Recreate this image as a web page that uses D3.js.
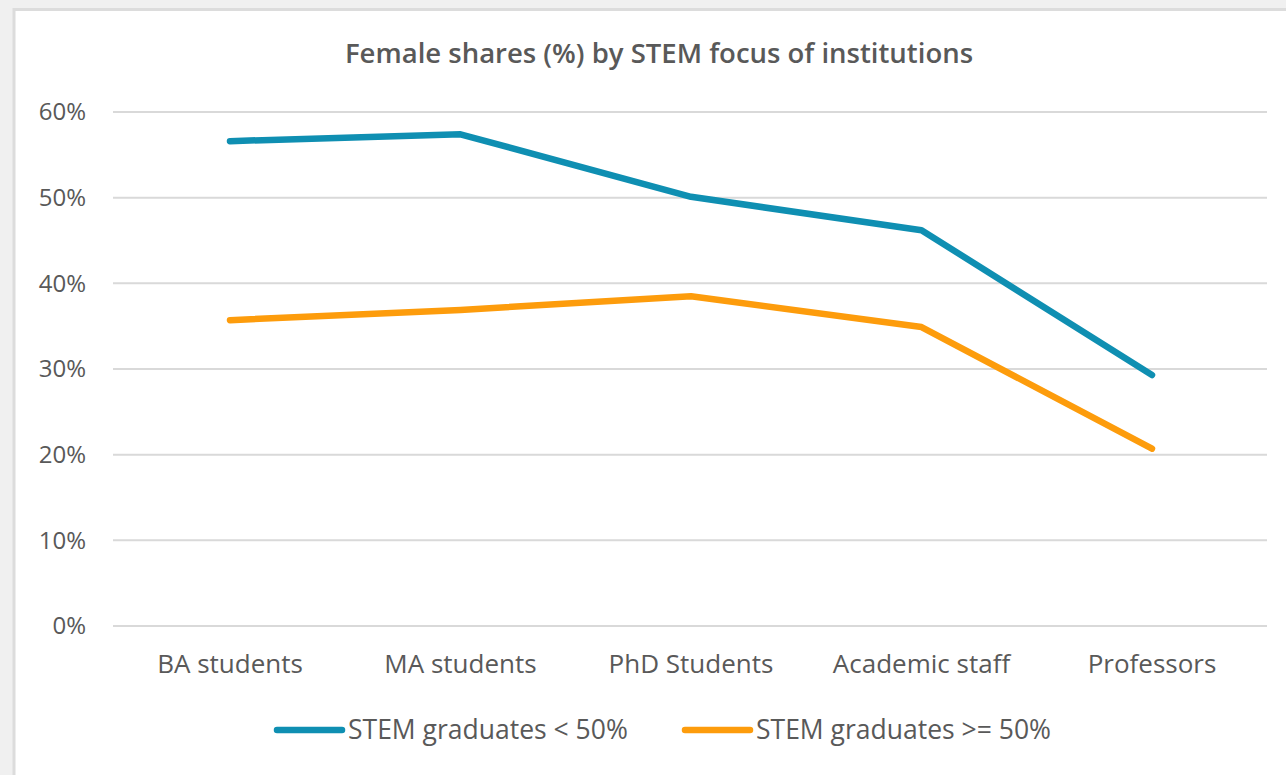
<!DOCTYPE html>
<html>
<head>
<meta charset="utf-8">
<script src="https://cdn.jsdelivr.net/npm/d3@7"></script>
<style>
  html, body { margin: 0; padding: 0; background: #f0f0f0; }
  svg { display: block; font-family: "Open Sans", "Noto Sans", sans-serif; }
</style>
</head>
<body>
<div id="chart"></div>
<script>
// data
var categories = ["BA students", "MA students", "PhD Students", "Academic staff", "Professors"];
var seriesNames = ["STEM graduates < 50%", "STEM graduates >= 50%"];
var stemBelow50 = [56.6, 57.4, 50.1, 46.2, 29.3];
var stemAbove50 = [35.7, 36.9, 38.5, 34.9, 20.7];
var yTicks = [0, 10, 20, 30, 40, 50, 60];
var colors = ["#0f8fb2", "#fd9c0c"];

var W = 1286, H = 775;
var svg = d3.select("#chart").append("svg")
  .attr("width", W)
  .attr("height", H);

// chart box (white area with grey border)
svg.append("rect")
  .attr("x", 14).attr("y", 9.5)
  .attr("width", W).attr("height", H)
  .attr("fill", "#ffffff")
  .attr("stroke", "#dcdcdc")
  .attr("stroke-width", 3);

var x = d3.scalePoint().domain(categories).range([230, 1152]);
var y = d3.scaleLinear().domain([0, 60]).range([626, 112]);

// gridlines
svg.append("g").selectAll("line")
  .data(yTicks)
  .enter().append("line")
    .attr("x1", 113).attr("x2", 1267)
    .attr("y1", function(d){ return y(d); })
    .attr("y2", function(d){ return y(d); })
    .attr("stroke", "#d9d9d9")
    .attr("stroke-width", 2);

// y tick labels
svg.append("g").selectAll("text")
  .data(yTicks)
  .enter().append("text")
    .attr("x", 86)
    .attr("y", function(d){ return y(d); })
    .attr("dy", "0.35em")
    .attr("text-anchor", "end")
    .attr("fill", "#595959")
    .attr("font-size", 24)
    .text(function(d){ return d + "%"; });

// category labels
svg.append("g").selectAll("text")
  .data(categories)
  .enter().append("text")
    .attr("x", function(d){ return x(d); })
    .attr("y", 673)
    .attr("text-anchor", "middle")
    .attr("fill", "#595959")
    .attr("font-size", 26)
    .text(function(d){ return d; });

// title
svg.append("text")
  .attr("x", 659).attr("y", 63)
  .attr("text-anchor", "middle")
  .attr("fill", "#595959")
  .attr("font-size", 27.5)
  .attr("font-weight", 600)
  .text("Female shares (%) by STEM focus of institutions");

// lines
var line = d3.line()
  .x(function(d, i){ return x(categories[i]); })
  .y(function(d){ return y(d); });

[stemBelow50, stemAbove50].forEach(function(s, k){
  svg.append("path")
    .datum(s)
    .attr("d", line)
    .attr("fill", "none")
    .attr("stroke", colors[k])
    .attr("stroke-width", 6.5)
    .attr("stroke-linecap", "round")
    .attr("stroke-linejoin", "round");
});

// legend
var legendX = [277, 685];
seriesNames.forEach(function(name, k){
  var g = svg.append("g").attr("transform", "translate(" + legendX[k] + ",730)");
  g.append("line")
    .attr("x1", 0).attr("x2", 65)
    .attr("stroke", colors[k])
    .attr("stroke-width", 6.5)
    .attr("stroke-linecap", "round");
  g.append("text")
    .attr("x", 71).attr("dy", "0.35em")
    .attr("fill", "#595959")
    .attr("font-size", 26.5)
    .text(name);
});
</script>
</body>
</html>
